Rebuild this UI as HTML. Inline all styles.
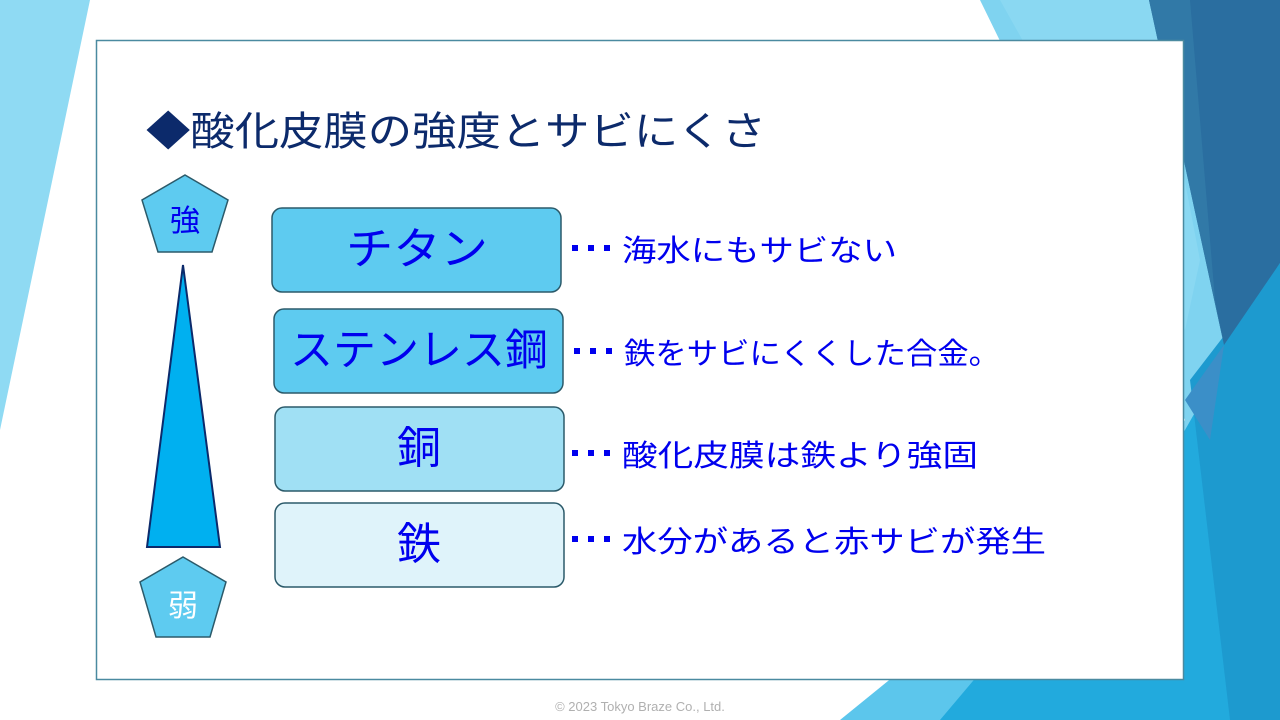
<!DOCTYPE html>
<html><head><meta charset="utf-8"><style>
html,body{margin:0;padding:0;width:1280px;height:720px;overflow:hidden;background:#fff}
svg{display:block}
text{font-family:"Liberation Sans","Noto Sans CJK JP",sans-serif;font-weight:400}
</style></head><body>
<svg width="1280" height="720" viewBox="0 0 1280 720" xmlns="http://www.w3.org/2000/svg">
<polygon points="0,0 90,0 0,430" fill="#8fdaf3"/>
<polygon points="980,0 1280,0 1280,720 930,720 1185,420" fill="#7fd3f0"/>
<polygon points="1000,0 1150,0 1200,260 1185,330" fill="#8ad8f2"/>
<polygon points="840,720 1000,590 1185,560 1185,720" fill="#5cc6ec"/>
<polygon points="940,720 1185,430 1280,263 1280,720" fill="#22aadd"/>
<polygon points="1190,380 1280,263 1280,720 1230,720" fill="#1d9acf"/>
<polygon points="1149,0 1280,0 1280,263 1224,345" fill="#2a6ea0"/>
<polygon points="1149,0 1190,0 1215,300 1224,345" fill="#3179a7"/>
<polygon points="1185,400 1224,345 1210,440" fill="#3b8fc8"/>
<rect x="96.5" y="40.5" width="1087" height="639" fill="#fff" stroke="#4a8aa0" stroke-width="1.5"/>
<text x="146" y="145" font-size="40" fill="#0c2a6b" textLength="620" lengthAdjust="spacingAndGlyphs">◆酸化皮膜の強度とサビにくさ</text>
<polygon points="185,175 228,200 212,252 158,252 142,200" fill="#5ecbf0" stroke="#2b5a6a" stroke-width="1.5"/>
<text x="185" y="231" font-size="30" fill="#0000ee" text-anchor="middle">強</text>
<polygon points="183,265 220,547 147,547" fill="#00b0f0" stroke="#0c2a6b" stroke-width="2"/>
<polygon points="183,557 226,582 210,637 156,637 140,582" fill="#5ecbf0" stroke="#2b5a6a" stroke-width="1.5"/>
<text x="183" y="616" font-size="30" fill="#ffffff" text-anchor="middle">弱</text>
<g stroke="#2b5a6a" stroke-width="1.5">
<rect x="272" y="208" width="289" height="84" rx="10" fill="#5ecbf0"/>
<rect x="274" y="309" width="289" height="84" rx="10" fill="#5ecbf0"/>
<rect x="275" y="407" width="289" height="84" rx="10" fill="#a0e0f4"/>
<rect x="275" y="503" width="289" height="84" rx="10" fill="#dff3fa"/>
</g>
<g fill="#0000ee">
<text x="346" y="264" font-size="44" textLength="142" lengthAdjust="spacingAndGlyphs">チタン</text>
<text x="290" y="365" font-size="43" textLength="258" lengthAdjust="spacingAndGlyphs">ステンレス鋼</text>
<text x="419" y="463" font-size="44" text-anchor="middle">銅</text>
<text x="419" y="559" font-size="44" text-anchor="middle">鉄</text>
<rect x="572" y="245" width="6" height="6"/><rect x="588" y="245" width="6" height="6"/><rect x="604" y="245" width="6" height="6"/>
<text x="622" y="261" font-size="30" textLength="275" lengthAdjust="spacingAndGlyphs">海水にもサビない</text>
<rect x="574" y="348" width="6" height="6"/><rect x="590" y="348" width="6" height="6"/><rect x="606" y="348" width="6" height="6"/>
<text x="624" y="364" font-size="30" textLength="376" lengthAdjust="spacingAndGlyphs">鉄をサビにくくした合金。</text>
<rect x="572" y="450" width="6" height="6"/><rect x="588" y="450" width="6" height="6"/><rect x="604" y="450" width="6" height="6"/>
<text x="622" y="466" font-size="30" textLength="356" lengthAdjust="spacingAndGlyphs">酸化皮膜は鉄より強固</text>
<rect x="572" y="536" width="6" height="6"/><rect x="588" y="536" width="6" height="6"/><rect x="604" y="536" width="6" height="6"/>
<text x="622" y="552" font-size="30" textLength="424" lengthAdjust="spacingAndGlyphs">水分があると赤サビが発生</text>
</g>
<text x="640" y="711" font-size="13" fill="#b0b0b0" text-anchor="middle">© 2023 Tokyo Braze Co., Ltd.</text>
</svg>
</body></html>
